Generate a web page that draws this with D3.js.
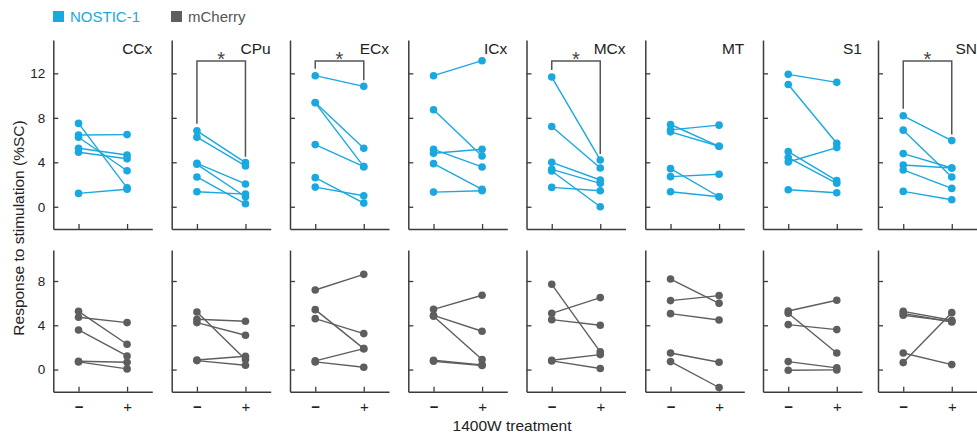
<!DOCTYPE html>
<html>
<head>
<meta charset="utf-8">
<script src="https://cdn.jsdelivr.net/npm/d3@7/dist/d3.min.js"></script>
<style>
  html, body { margin: 0; padding: 0; background: #fff; }
  svg { display: block; font-family: "Liberation Sans", Arial, Helvetica, sans-serif; }
</style>
</head>
<body>
<svg id="chart" width="977" height="440"></svg>
<script>
// ---------------- DATA ----------------
const regions = ["CCx", "CPu", "ECx", "ICx", "MCx", "MT", "S1", "SN"];
const treatments = ["\u2212", "+"];
const seriesNames = ["NOSTIC-1", "mCherry"];
const significant = [false, true, true, false, true, false, false, true];

// NOSTIC-1 (top row): paired values, without (−) and with (+) 1400W
const nosticPre = [
  [7.5, 6.46, 6.25, 5.26, 4.9, 1.2],
  [6.83, 6.26, 3.91, 3.82, 2.68, 1.35],
  [11.79, 9.38, 9.35, 5.59, 2.62, 1.77],
  [11.79, 8.72, 5.17, 4.81, 3.88, 1.32],
  [11.67, 7.22, 4.0, 3.37, 3.22, 1.74],
  [7.4, 6.92, 6.74, 3.43, 2.71, 1.35],
  [11.91, 11.0, 4.96, 4.42, 4.03, 1.53],
  [8.18, 6.89, 4.78, 3.76, 3.31, 1.38]
];
const nosticPost = [
  [1.7, 6.49, 3.24, 4.66, 4.32, 1.57],
  [3.97, 3.67, 2.05, 0.9, 0.27, 1.14],
  [10.83, 5.26, 3.61, 3.61, 0.33, 0.99],
  [13.14, 4.57, 3.58, 5.17, 1.56, 1.44],
  [4.21, 3.49, 2.41, 2.11, 0.0, 1.44],
  [5.44, 7.34, 5.44, 0.9, 2.92, 0.9],
  [11.19, 5.71, 2.35, 2.11, 5.32, 1.26],
  [5.95, 2.68, 3.49, 3.49, 1.65, 0.63]
];

// mCherry (bottom row)
const mcherryPre = [
  [5.26, 4.72, 3.58, 0.75, 0.69],
  [5.2, 4.54, 4.24, 0.87, 0.81],
  [7.19, 5.41, 4.6, 0.78, 0.69],
  [5.44, 4.9, 4.81, 0.84, 0.75],
  [7.7, 5.08, 4.51, 0.84, 0.78],
  [8.18, 6.23, 5.05, 1.5, 0.72],
  [5.29, 5.08, 4.06, 0.72, -0.06],
  [5.26, 5.08, 4.9, 1.5, 0.63]
];
const mcherryPost = [
  [2.29, 4.24, 1.23, 0.66, 0.06],
  [0.9, 4.36, 3.1, 1.2, 0.39],
  [8.6, 1.89, 3.25, 1.89, 0.21],
  [6.71, 3.46, 0.9, 0.42, 0.36],
  [1.6, 6.5, 4.0, 1.35, 0.09],
  [5.98, 6.68, 4.48, 0.66, -1.62],
  [6.26, 1.5, 3.61, 0.15, -0.03],
  [4.45, 4.3, 4.35, 0.45, 5.14]
];

const yTicksTop = [0, 4, 8, 12];
const yTicksBottom = [0, 4, 8];
const yLabel = "Response to stimulation (%SC)";
const xLabel = "1400W treatment";

// ---------------- LAYOUT ----------------
const blue = "#19a8e0";
const gray = "#5e5e5e";
const axisColor = "#3c3c3c";
const textColor = "#222";
const panelX = [53.3, 171.7, 290, 408.3, 526.5, 645.3, 763, 878];
const panelW = 99;

const svg = d3.select("#chart");

const rows = [
  { pre: nosticPre, post: nosticPost, color: blue,
    y: d3.scaleLinear().domain([-2, 15]).range([229, 40]), ticks: yTicksTop, showX: false },
  { pre: mcherryPre, post: mcherryPost, color: gray,
    y: d3.scaleLinear().domain([-2, 10.8]).range([391.7, 250]), ticks: yTicksBottom, showX: true }
];

rows.forEach((row, ri) => {
  regions.forEach((reg, pi) => {
    const x0 = panelX[pi];
    const x = d3.scalePoint().domain(treatments).range([x0, x0 + panelW]).padding(0.52);
    const g = svg.append("g");

    // y axis
    const yAxis = d3.axisLeft(row.y).tickValues(row.ticks).tickSizeInner(-5).tickSizeOuter(0).tickPadding(8)
      .tickFormat(pi === 0 ? d3.format("d") : () => "");
    const ya = g.append("g").attr("transform", `translate(${x0},0)`).call(yAxis);
    ya.select(".domain").attr("stroke", axisColor).attr("stroke-width", 1.5);
    ya.selectAll(".tick line").attr("stroke", axisColor).attr("stroke-width", 1.3);
    ya.selectAll(".tick text").attr("fill", textColor).style("font-size", "13.5px")
      .style("font-family", "'Liberation Sans', Arial, sans-serif");

    // x axis
    const xAxis = d3.axisBottom(x).tickSizeInner(-5).tickSizeOuter(0).tickPadding(10)
      .tickFormat(row.showX ? (d => d) : () => "");
    const xa = g.append("g").attr("transform", `translate(0,${row.y.range()[0]})`).call(xAxis);
    xa.select(".domain").attr("stroke", axisColor).attr("stroke-width", 1.5);
    xa.selectAll(".tick line").attr("stroke", axisColor).attr("stroke-width", 1.3);
    xa.selectAll(".tick text").attr("fill", textColor)
      .style("font-size", "15px").style("font-weight", d => d === "+" ? "normal" : "bold")
      .style("font-family", "'Liberation Sans', Arial, sans-serif");

    // pairs
    const pre = row.pre[pi], post = row.post[pi];
    const pairs = pre.map((v, i) => [v, post[i]]);
    g.append("g").selectAll("line").data(pairs).join("line")
      .attr("x1", x(treatments[0])).attr("x2", x(treatments[1]))
      .attr("y1", d => row.y(d[0])).attr("y2", d => row.y(d[1]))
      .attr("stroke", row.color).attr("stroke-width", 1.4);
    const pts = [];
    pairs.forEach(p => { pts.push([treatments[0], p[0]]); pts.push([treatments[1], p[1]]); });
    g.append("g").selectAll("circle").data(pts).join("circle")
      .attr("cx", d => x(d[0])).attr("cy", d => row.y(d[1])).attr("r", 3.8)
      .attr("fill", row.color);

    if (ri === 0) {
      // region label
      g.append("text").attr("x", x0 + panelW).attr("y", 54).attr("text-anchor", "end")
        .attr("fill", textColor).style("font-size", "15.5px").text(reg);
      // significance bracket
      if (significant[pi]) {
        const yTop = 61;
        const yl = row.y(d3.max(pre)) - 7;
        const yr = row.y(d3.max(post)) - 6;
        const xl = x(treatments[0]), xr = x(treatments[1]);
        g.append("path")
          .attr("d", `M${xl},${yl}V${yTop}H${xr}V${yr}`)
          .attr("fill", "none").attr("stroke", "#555").attr("stroke-width", 1.5);
        g.append("text").attr("x", (xl + xr) / 2).attr("y", 66).attr("text-anchor", "middle")
          .attr("fill", "#444").style("font-size", "20px").text("*");
      }
    }
  });
});

// legend
const legend = svg.append("g");
[blue, gray].forEach((c, i) => {
  const lx = i === 0 ? 53 : 171;
  legend.append("rect").attr("x", lx).attr("y", 11).attr("width", 11).attr("height", 11).attr("fill", c);
  legend.append("text").attr("x", lx + 17).attr("y", 22).attr("fill", i === 0 ? blue : "#555")
    .style("font-size", "15px").text(seriesNames[i]);
});

// axis titles
svg.append("text").attr("transform", "translate(24,228) rotate(-90)").attr("text-anchor", "middle")
  .attr("fill", textColor).style("font-size", "15.5px").text(yLabel);
svg.append("text").attr("x", 512).attr("y", 431).attr("text-anchor", "middle")
  .attr("fill", textColor).style("font-size", "15.5px").text(xLabel);
</script>
</body>
</html>
